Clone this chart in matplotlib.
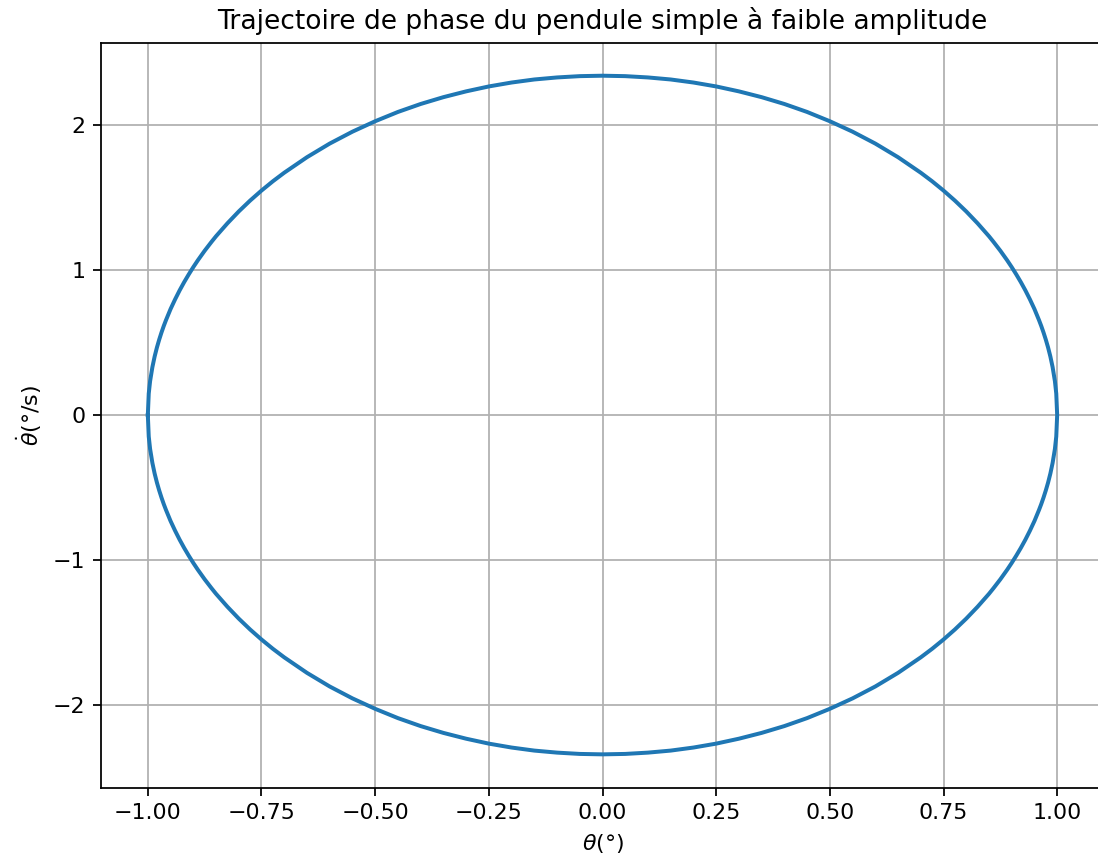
import matplotlib.pyplot as plt

# Trajectoire de phase : demi-courbe haute (gauche -> droite)
theta_haut = [-1.0, -0.998, -0.995, -0.99, -0.985, -0.98, -0.975, -0.97, -0.965, -0.96,
              -0.95, -0.94, -0.93, -0.92, -0.91, -0.9, -0.89, -0.875, -0.86, -0.85,
              -0.825, -0.8, -0.775, -0.75, -0.725, -0.7, -0.65, -0.6, -0.55, -0.5,
              -0.45, -0.4, -0.35, -0.3, -0.25, -0.2, -0.15, -0.1, -0.05, 0.0,
              0.05, 0.1, 0.15, 0.2, 0.25, 0.3, 0.35, 0.4, 0.45,
              0.5, 0.55, 0.6, 0.65, 0.7, 0.725, 0.75, 0.775, 0.8, 0.825,
              0.85, 0.86, 0.875, 0.89, 0.9, 0.91, 0.92, 0.93, 0.94, 0.95,
              0.96, 0.965, 0.97, 0.975, 0.98, 0.985, 0.99, 0.995, 0.998, 1.0]
thetadot_haut = [0.0, 0.148, 0.234, 0.330, 0.404, 0.466, 0.520, 0.569, 0.614, 0.655,
                 0.731, 0.798, 0.860, 0.917, 0.970, 1.020, 1.067, 1.133, 1.194, 1.233,
                 1.322, 1.404, 1.479, 1.548, 1.612, 1.671, 1.778, 1.872, 1.954, 2.026,
                 2.090, 2.145, 2.192, 2.232, 2.266, 2.293, 2.314, 2.328, 2.337, 2.340,
                 2.337, 2.328, 2.314, 2.293, 2.266, 2.232, 2.192, 2.145, 2.090,
                 2.026, 1.954, 1.872, 1.778, 1.671, 1.612, 1.548, 1.479, 1.404, 1.322,
                 1.233, 1.194, 1.133, 1.067, 1.020, 0.970, 0.917, 0.860, 0.798, 0.731,
                 0.655, 0.614, 0.569, 0.520, 0.466, 0.404, 0.330, 0.234, 0.148, 0.0]

# demi-courbe basse (droite -> gauche)
theta_bas = [1.0, 0.998, 0.995, 0.99, 0.985, 0.98, 0.975, 0.97, 0.965, 0.96,
             0.95, 0.94, 0.93, 0.92, 0.91, 0.9, 0.89, 0.875, 0.86, 0.85,
             0.825, 0.8, 0.775, 0.75, 0.725, 0.7, 0.65, 0.6, 0.55, 0.5,
             0.45, 0.4, 0.35, 0.3, 0.25, 0.2, 0.15, 0.1, 0.05, 0.0,
             -0.05, -0.1, -0.15, -0.2, -0.25, -0.3, -0.35, -0.4, -0.45,
             -0.5, -0.55, -0.6, -0.65, -0.7, -0.725, -0.75, -0.775, -0.8, -0.825,
             -0.85, -0.86, -0.875, -0.89, -0.9, -0.91, -0.92, -0.93, -0.94, -0.95,
             -0.96, -0.965, -0.97, -0.975, -0.98, -0.985, -0.99, -0.995, -0.998, -1.0]
thetadot_bas = [0.0, -0.148, -0.234, -0.330, -0.404, -0.466, -0.520, -0.569, -0.614, -0.655,
                -0.731, -0.798, -0.860, -0.917, -0.970, -1.020, -1.067, -1.133, -1.194, -1.233,
                -1.322, -1.404, -1.479, -1.548, -1.612, -1.671, -1.778, -1.872, -1.954, -2.026,
                -2.090, -2.145, -2.192, -2.232, -2.266, -2.293, -2.314, -2.328, -2.337, -2.340,
                -2.337, -2.328, -2.314, -2.293, -2.266, -2.232, -2.192, -2.145, -2.090,
                -2.026, -1.954, -1.872, -1.778, -1.671, -1.612, -1.548, -1.479, -1.404, -1.322,
                -1.233, -1.194, -1.133, -1.067, -1.020, -0.970, -0.917, -0.860, -0.798, -0.731,
                -0.655, -0.614, -0.569, -0.520, -0.466, -0.404, -0.330, -0.234, -0.148, 0.0]

theta = theta_haut + theta_bas
thetadot = thetadot_haut + thetadot_bas

W, H, DPI = 1098, 863, 159
fig = plt.figure(figsize=(W / DPI, H / DPI), dpi=DPI)
ax = fig.add_axes([101 / W, 1 - 788 / H, (1104 - 101) / W, (788 - 42.5) / H])

ax.plot(theta, thetadot, color='#1f77b4', linewidth=1.8, solid_joinstyle='round')
ax.set_xlim(-1.103, 1.103)
ax.set_ylim(-2.572, 2.569)
ax.set_xticks([-1.0, -0.75, -0.5, -0.25, 0.0, 0.25, 0.5, 0.75, 1.0])
ax.grid(True)
ax.set_title('Trajectoire de phase du pendule simple à faible amplitude')
ax.set_xlabel(r'$\theta$(°)')
ax.set_ylabel(r'$\dot{\theta}$(°/s)')

fig.savefig('out.png', dpi=DPI)
